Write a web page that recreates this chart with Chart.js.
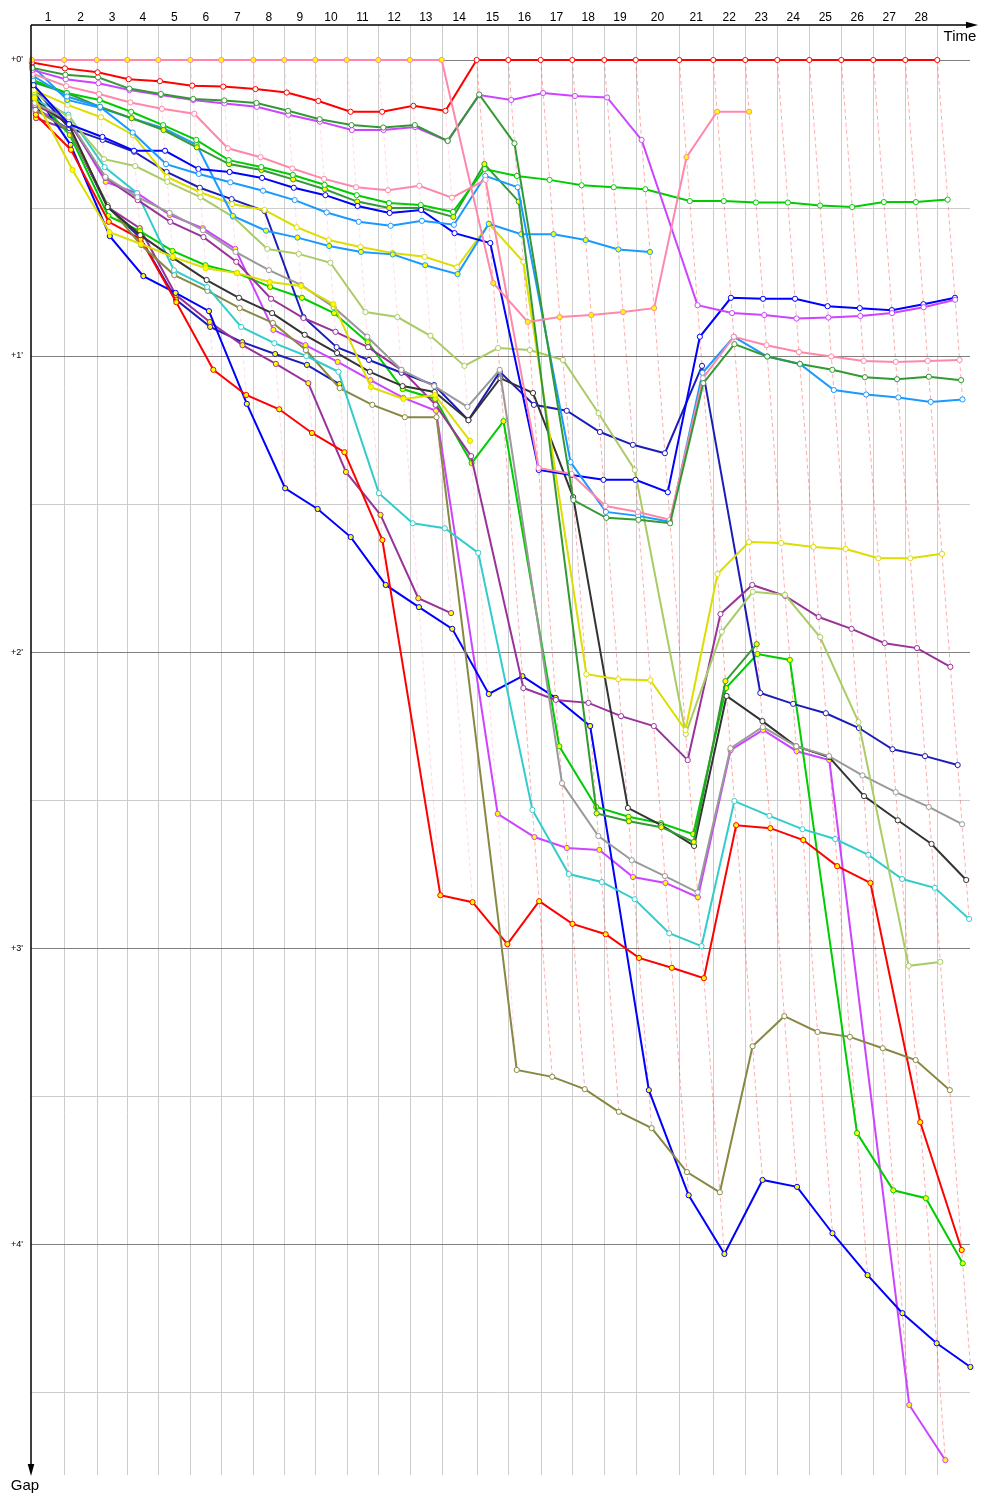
<!DOCTYPE html>
<html><head><meta charset="utf-8">
<script src="https://cdn.jsdelivr.net/npm/chart.js@4.4.0/dist/chart.umd.min.js"></script>
<style>html,body{margin:0;padding:0;background:#fff;}canvas{display:block;}</style>
</head><body>
<canvas id="c" width="1000" height="1500"></canvas>
<script>
// ---- DATA ----
const lapLabels = ['1','2','3','4','5','6','7','8','9','10','11','12','13','14','15','16','17','18','19','20','21','22','23','24','25','26','27','28'];
// leader crossing time (s) at start (index 0) and after each lap
const leaderTimes = [0,88.8,177.2,260.6,345.2,432.5,517.0,604.3,688.8,773.4,859.0,945.2,1031.6,1118.1,1213.5,1299.7,1388.1,1474.3,1561.6,1647.2,1766.1,1858.8,1946.1,2033.4,2120.7,2208.0,2295.2,2382.5,2469.8];
const yTickLabels = ["+0'","+1'","+2'","+3'","+4'"];
// gap to leader (s) per lap, index 0 = start
const gapPinkA = [0,0,0,0,0,0,0,0,0,0,0,0,0,0,45.2,53.1,52.1,51.7,51.1,50.3,19.7,10.5,10.5];
const gapRedA = [0.5,1.7,2.5,3.9,4.3,5.2,5.4,5.9,6.6,8.3,10.5,10.5,9.3,10.3,0,0,0,0,0,0,0,0,0,0,0,0,0,0,0];
const gapDkGreenA = [1.6,3.0,3.5,5.8,6.9,7.9,8.2,8.7,10.3,12.0,13.2,13.7,13.2,16.4,7.0,16.9,89.2,92.8,93.2,93.9,65.5,57.6,60.1,61.6,62.8,64.3,64.7,64.2,64.9];
const gapVioletA = [2.0,3.9,4.7,6.1,7.1,8.1,8.8,9.5,11.1,12.5,14.2,14.2,13.6,16.4,7.1,8.1,6.7,7.3,7.6,16.2,49.7,51.3,51.7,52.4,52.2,51.9,51.3,50.1,48.6];
const gapPinkB = [2.8,5.3,6.9,8.6,9.9,10.9,17.9,19.7,22.0,24.1,25.8,26.4,25.5,27.9,24.3,82.7,83.9,90.4,91.6,93.2,64.5,56.1,57.8,59.2,60.1,61.0,61.2,61.0,60.8];
const gapLightBlueB = [3.2,7.4,9.5,14.7,21.1,23.1,24.8,26.5,28.4,30.9,32.8,33.6,32.6,33.4,23.5,25.8,81.5,91.6,92.4,93.6,63.4,56.1,60.1,61.6,66.9,67.8,68.4,69.3,68.8];
const gapBlueA = [5.1,13.0,15.6,18.4,18.4,22.1,22.7,23.9,25.9,27.4,29.6,31.0,30.4,35.1,37.1,83.1,84.1,85.1,85.1,87.6,56.1,48.2,48.4,48.4,49.9,50.3,50.7,49.5,48.2];
const gapGreenA = [4.1,6.7,8.1,10.5,13.2,16.2,20.3,21.7,23.3,25.3,27.4,29.0,29.4,30.8,22.1,23.5,24.3,25.4,25.8,26.2,28.6,28.6,28.9,28.9,29.5,29.8,28.8,28.8,28.3];
const gapDkGreenC = [4.5,6.7,9.5,11.8,14.2,17.7,21.1,22.3,24.2,26.2,28.7,30.0,30.0,31.8,21.1,28.7,152.7,154.3,155.5,158.5,125.9,118.4];
const gapLightBlueA = [1.2,8.1,9.7,11.8,13.8,17.2,31.6,34.6,36.0,37.7,38.9,39.4,41.6,43.4,33.2,35.3,35.3,36.5,38.4,38.9];
const gapYellowA = [6.1,9.1,11.6,15.2,23.7,26.8,29.2,30.4,33.9,36.5,37.9,39.1,39.9,42.0,33.2,40.9,124.5,125.5,125.7,135.8,104.2,97.7,97.9,98.7,99.1,101.0,101.0,100.1];
const gapYellowB = [7.7,22.3,34.9,37.3,39.9,42.2,43.2,45.0,45.8,49.5,66.3,68.7,67.9,77.2];
const gapLightOlive = [6.5,11.6,20.1,21.5,24.7,27.8,31.8,38.3,39.3,41.1,51.1,52.1,55.9,62.0,58.4,58.8,60.8,71.6,83.1,136.6,115.9,107.8,108.4,117.0,134.2,183.6,182.8];
const gapGray = [8.7,12.2,23.7,27.8,31.0,34.5,38.9,42.6,45.6,50.1,56.1,62.8,66.1,70.3,62.8,146.6,157.3,162.2,165.4,168.7,139.5,135.2,139.1,141.1,145.0,148.4,151.4,154.9];
const gapBlack = [8.1,13.2,29.8,35.5,40.1,44.6,48.2,51.3,55.7,59.4,63.2,66.1,67.3,73.0,64.5,67.5,88.6,151.6,155.1,159.3,128.9,134.0,139.1,141.3,149.2,154.1,158.9,166.2];
const gapPurpleA = [9.1,12.6,23.9,28.4,32.8,35.9,40.9,48.4,52.3,55.1,58.2,62.8,69.9,80.3,127.3,129.7,130.3,133.0,135.0,141.9,112.3,106.4,108.6,112.9,115.3,118.2,119.2,123.0];
const gapNavyA = [5.7,13.8,16.2,18.6,22.7,25.9,28.2,30.6,52.1,58.2,60.8,63.4,65.9,73.0,63.2,69.9,71.1,75.4,78.0,79.7,62.0,128.3,130.5,132.4,135.4,139.7,141.1,142.9];
const gapCyan = [8.1,11.1,21.7,27.0,42.6,46.0,54.1,57.4,60.0,63.2,87.8,93.9,94.9,99.9,152.0,165.0,166.6,170.1,177.0,179.6,150.2,153.2,155.9,157.9,161.1,166.0,167.8,174.1];
const gapOlive = [10.1,14.2,29.4,37.5,43.6,46.8,50.3,53.3,58.8,66.5,69.9,72.4,72.4,204.7,206.1,208.6,213.2,216.5,225.4,229.5,199.9,193.8,197.0,198.0,200.3,202.7,208.8];
const gapRedB = [11.1,18.2,32.8,36.3,49.1,62.8,67.9,70.8,75.6,79.5,97.3,169.3,170.7,179.2,170.5,175.1,177.2,182.0,184.0,186.1,155.1,155.7,158.1,163.4,166.8,215.3,241.2];
const gapGreenB = [7.3,15.2,31.6,34.7,38.7,41.6,43.2,46.0,48.2,51.3,57.2,66.7,68.7,81.7,73.2,139.1,151.4,153.4,154.7,156.9,127.3,120.4,121.6,217.5,229.1,230.7,243.9];
const gapBlueB = [6.5,17.2,35.7,43.8,47.2,50.9,69.7,86.8,91.0,96.7,106.4,110.9,115.3,128.5,124.9,129.3,135.0,208.8,230.1,242.0,227.0,228.4,237.8,246.3,254.0,260.1,264.9];
const gapVioletB = [10.5,12.2,24.7,27.0,31.4,34.1,38.3,54.7,57.8,61.2,64.9,68.5,71.1,152.8,157.5,159.7,160.1,165.6,166.8,169.7,139.9,135.8,140.1,141.9,272.6,283.8];
const gapPurpleB = [11.8,14.2,29.8,34.1,47.6,53.1,57.8,61.6,65.5,83.5,92.2,109.1,112.1];
const gapNavyB = [9.7,14.2,29.8,36.1,48.6,54.1,57.2,59.6,61.8,65.7];

// ---- STYLES ----
const riders = [
  {gaps: gapPinkA, color: '#ff88aa', yellow: true},
  {gaps: gapRedA, color: '#ff0000', yellow: false},
  {gaps: gapDkGreenA, color: '#339933', yellow: false},
  {gaps: gapVioletA, color: '#cc44ff', yellow: false},
  {gaps: gapPinkB, color: '#ff88aa', yellow: false},
  {gaps: gapLightBlueB, color: '#1a9aff', yellow: false},
  {gaps: gapBlueA, color: '#0000ff', yellow: false},
  {gaps: gapGreenA, color: '#00cc00', yellow: false},
  {gaps: gapDkGreenC, color: '#339933', yellow: true},
  {gaps: gapLightBlueA, color: '#1a9aff', yellow: true},
  {gaps: gapYellowA, color: '#dddd00', yellow: false},
  {gaps: gapYellowB, color: '#dddd00', yellow: true},
  {gaps: gapLightOlive, color: '#aacc66', yellow: false},
  {gaps: gapGray, color: '#999999', yellow: false},
  {gaps: gapBlack, color: '#333333', yellow: false},
  {gaps: gapPurpleA, color: '#993399', yellow: false},
  {gaps: gapNavyA, color: '#1c1cb8', yellow: false},
  {gaps: gapCyan, color: '#33cccc', yellow: false},
  {gaps: gapOlive, color: '#888844', yellow: false},
  {gaps: gapRedB, color: '#ff0000', yellow: true},
  {gaps: gapGreenB, color: '#00cc00', yellow: true},
  {gaps: gapBlueB, color: '#0000ff', yellow: true},
  {gaps: gapVioletB, color: '#cc44ff', yellow: true},
  {gaps: gapPurpleB, color: '#993399', yellow: true},
  {gaps: gapNavyB, color: '#1c1cb8', yellow: true}
];

function hexAlpha(hex, a) {
  const n = parseInt(hex.slice(1), 16);
  return 'rgba(' + ((n >> 16) & 255) + ',' + ((n >> 8) & 255) + ',' + (n & 255) + ',' + a + ')';
}

const datasets = riders.map(r => ({
  data: r.gaps.map((g, k) => ({x: leaderTimes[k] + g, y: g})),
  borderColor: r.color,
  backgroundColor: r.color,
  pointBackgroundColor: r.yellow ? '#ffff00' : '#ffffff',
  pointBorderColor: r.color,
  pointRadius: 2.6,
  pointBorderWidth: 1,
  borderWidth: 2,
  tension: 0,
  clip: false,
  order: 1
}));

// lap lines: from the leader crossing to the last rider of that lap
for (let k = 1; k < leaderTimes.length; k++) {
  let maxG = 0, minG = Infinity, lead = null;
  riders.forEach(r => {
    if (r.gaps[k] === undefined) return;
    if (r.gaps[k] > maxG) maxG = r.gaps[k];
    if (r.gaps[k] < minG) { minG = r.gaps[k]; lead = r; }
  });
  const alpha = lead.color === '#ff0000' ? 0.33 : 0.3;
  datasets.push({
    data: [{x: leaderTimes[k], y: 0}, {x: leaderTimes[k] + maxG, y: maxG}],
    borderColor: hexAlpha(lead.color, alpha),
    borderDash: [4, 3],
    borderWidth: 1,
    pointRadius: 0,
    tension: 0,
    clip: false,
    order: 5
  });
}

const FONT = '"Liberation Sans", "DejaVu Sans", sans-serif';

const frame = {
  id: 'frame',
  beforeDatasetsDraw(chart) {
    const {ctx, chartArea: a, scales: {x, y}} = chart;
    ctx.save();
    ctx.lineWidth = 1;
    ctx.strokeStyle = '#cccccc';
    leaderTimes.slice(1).forEach(t => {
      const px = Math.round(x.getPixelForValue(t)) + 0.5;
      ctx.beginPath(); ctx.moveTo(px, a.top); ctx.lineTo(px, a.bottom); ctx.stroke();
    });
    for (let s = 0; s <= y.max; s += 30) {
      const py = Math.round(y.getPixelForValue(s)) + 0.5;
      ctx.strokeStyle = (s % 60 === 0) ? '#808080' : '#cccccc';
      ctx.beginPath(); ctx.moveTo(a.left, py); ctx.lineTo(a.right, py); ctx.stroke();
    }
    ctx.restore();
  },
  afterDraw(chart) {
    const {ctx, chartArea: a, scales: {x, y}} = chart;
    ctx.save();
    ctx.strokeStyle = '#000'; ctx.fillStyle = '#000'; ctx.lineWidth = 1.5;
    // time axis
    ctx.beginPath(); ctx.moveTo(a.left, a.top); ctx.lineTo(a.right + 4, a.top); ctx.stroke();
    ctx.beginPath(); ctx.moveTo(a.right + 8, a.top); ctx.lineTo(a.right - 4, a.top - 3.3); ctx.lineTo(a.right - 4, a.top + 3.3); ctx.closePath(); ctx.fill();
    // gap axis
    ctx.beginPath(); ctx.moveTo(a.left, a.top); ctx.lineTo(a.left, a.bottom - 6); ctx.stroke();
    ctx.beginPath(); ctx.moveTo(a.left, a.bottom + 1); ctx.lineTo(a.left - 3.3, a.bottom - 11); ctx.lineTo(a.left + 3.3, a.bottom - 11); ctx.closePath(); ctx.fill();
    // lap labels
    ctx.font = '12px ' + FONT;
    ctx.textAlign = 'center'; ctx.textBaseline = 'alphabetic';
    lapLabels.forEach((lab, i) => {
      const px = (x.getPixelForValue(leaderTimes[i]) + x.getPixelForValue(leaderTimes[i + 1])) / 2;
      ctx.fillText(lab, px, 21);
    });
    ctx.font = '15px ' + FONT;
    ctx.fillText('Time', a.right - 10, 41);
    ctx.fillText('Gap', a.left - 6, a.bottom + 15);
    // gap tick labels
    ctx.font = '9px ' + FONT;
    ctx.textAlign = 'right'; ctx.textBaseline = 'middle';
    yTickLabels.forEach((lab, i) => {
      ctx.fillText(lab, 23, y.getPixelForValue(i * 60));
    });
    ctx.restore();
  }
};

new Chart(document.getElementById('c'), {
  type: 'line',
  data: {datasets},
  options: {
    responsive: false,
    animation: false,
    devicePixelRatio: 1,
    layout: {padding: {left: 31, top: 25, right: 30, bottom: 25}},
    plugins: {legend: {display: false}, tooltip: {enabled: false}},
    scales: {
      x: {type: 'linear', display: false, min: -2, max: 2559},
      y: {type: 'linear', display: false, reverse: true, min: -7.09, max: 286.8}
    }
  },
  plugins: [frame]
});
</script>
</body></html>
